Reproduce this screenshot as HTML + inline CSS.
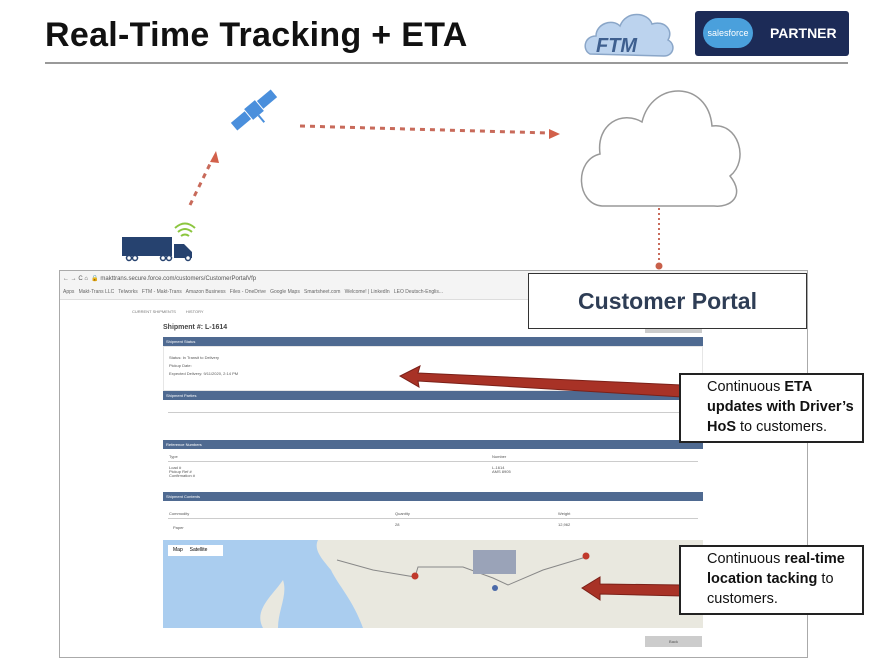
<!DOCTYPE html>
<html><head><meta charset="utf-8"><style>
body{margin:0;width:893px;height:668px;background:#fff;position:relative;overflow:hidden;font-family:"Liberation Sans",sans-serif}
.a{position:absolute}
.hd{position:absolute;left:163px;width:540px;background:#4f6a91;color:#fff;font-size:4px;line-height:9px;padding-left:3px;box-sizing:border-box}
.t{position:absolute;font-size:4px;color:#555}
.call{position:absolute;left:679px;width:185px;border:2px solid #222;background:#fff;box-sizing:border-box;font-size:14.5px;line-height:20px;padding:2px 0 0 26px;color:#111}
</style></head><body>
<div class="a" style="left:45px;top:16px;font-size:34px;font-weight:bold;color:#111;letter-spacing:0.3px">Real-Time Tracking + ETA</div>
<div class="a" style="left:45px;top:62px;width:803px;height:2px;background:#999"></div>
<!-- FTM logo -->
<svg class="a" style="left:582px;top:6px" width="96" height="56">
<path d="M8 48 C0 44 2 30 14 30 C14 18 30 12 38 20 C44 4 66 6 70 18 C82 14 92 24 86 34 C94 38 92 50 82 50 Z" fill="#bcd3ee" stroke="#8aa6c8" stroke-width="1.5"/>
<text x="14" y="46" font-family="Liberation Sans" font-size="20" font-weight="bold" font-style="italic" fill="#3e5f8f">FTM</text>
</svg>
<div class="a" style="left:695px;top:11px;width:154px;height:45px;background:#1c2b57;border-radius:3px"></div>
<div class="a" style="left:703px;top:18px;width:50px;height:30px;background:#4aa0dc;border-radius:15px;color:#fff;font-size:9px;line-height:30px;text-align:center">salesforce</div>
<div class="a" style="left:770px;top:25px;color:#fff;font-weight:bold;font-size:14px">PARTNER</div>
<svg class="a" style="left:0;top:0" width="893" height="668">
<!-- satellite -->
<g transform="translate(254,110) rotate(-40)">
<rect x="-26" y="-5" width="18" height="10" fill="#4a8fdc"/>
<rect x="8" y="-5" width="18" height="10" fill="#4a8fdc"/>
<rect x="-7" y="-7" width="14" height="14" fill="#4a8fdc"/>
<line x1="0" y1="7" x2="0" y2="16" stroke="#4a8fdc" stroke-width="2"/>
</g>
<!-- truck -->
<rect x="122" y="237" width="50" height="19" fill="#26426f"/>
<path d="M174 244 h10 l8 8 v6 h-18z" fill="#26426f"/>
<circle cx="129" cy="258" r="2.5" fill="#fff" stroke="#26426f" stroke-width="1.5"/>
<circle cx="135" cy="258" r="2.5" fill="#fff" stroke="#26426f" stroke-width="1.5"/>
<circle cx="163" cy="258" r="2.5" fill="#fff" stroke="#26426f" stroke-width="1.5"/>
<circle cx="169" cy="258" r="2.5" fill="#fff" stroke="#26426f" stroke-width="1.5"/>
<circle cx="188" cy="258" r="2.5" fill="#fff" stroke="#26426f" stroke-width="1.5"/>
<path d="M175 228 q10 -9 20 0 M178 232 q7 -6 14 0 M181 236 q4 -3 8 0" stroke="#8cc63f" stroke-width="2" fill="none"/>
<!-- dotted lines -->
<line x1="190" y1="205" x2="212" y2="160" stroke="#c86a5a" stroke-width="3" stroke-dasharray="5 5"/>
<polygon points="216,151 210,162 219,163" fill="#d2604a"/>
<line x1="300" y1="126" x2="550" y2="133" stroke="#c86a5a" stroke-width="3" stroke-dasharray="5 5"/>
<polygon points="560,134 549,129 549,139" fill="#d2604a"/>
<!-- cloud -->
<path d="M602 206 C576 204 574 160 600 154 C596 124 622 110 642 122 C652 80 708 80 712 126 C738 122 750 160 730 176 C746 196 730 208 714 206 Z" fill="#fff" stroke="#999" stroke-width="1.5"/>
<line x1="659" y1="208" x2="659" y2="262" stroke="#c86a5a" stroke-width="2" stroke-dasharray="2 3"/>
<circle cx="659" cy="266" r="3.5" fill="#c8604a"/>
</svg>
<!-- browser -->
<div class="a" style="left:59px;top:270px;width:749px;height:388px;border:1px solid #aaa;box-sizing:border-box;background:#fff"></div>
<div class="a" style="left:60px;top:271px;width:747px;height:28px;background:#f4f4f4;border-bottom:1px solid #ddd"></div>
<div class="a" style="left:63px;top:275px;font-size:6px;color:#555">← → C ⌂ &nbsp;🔒 makttrans.secure.force.com/customers/CustomerPortalVfp</div>
<div class="a" style="left:63px;top:289px;font-size:5px;color:#666;white-space:nowrap">Apps &nbsp; Makt-Trans LLC &nbsp; Telworks &nbsp; FTM - Makt-Trans &nbsp; Amazon Business &nbsp; Files - OneDrive &nbsp; Google Maps &nbsp; Smartsheet.com &nbsp; Welcome! | LinkedIn &nbsp; LEO Deutsch-Englis...</div>
<div class="a" style="left:132px;top:309px;font-size:4px;color:#777">CURRENT SHIPMENTS &nbsp;&nbsp;&nbsp;&nbsp;&nbsp;&nbsp;&nbsp; HISTORY</div>
<div class="a" style="left:163px;top:324px;font-size:7px;font-weight:bold;color:#444">Shipment #: L-1614</div>
<div class="a" style="left:645px;top:327px;width:57px;height:6px;background:#ccc"></div>
<div class="hd" style="top:337px">Shipment Status</div>
<div class="a" style="left:163px;top:346px;width:540px;height:45px;border:1px solid #e6e6e6;box-sizing:border-box"></div>
<div class="t" style="left:169px;top:354px;line-height:8px">Status: In Transit to Delivery<br>Pickup Date:<br>Expected Delivery: 9/11/2020, 2:14 PM</div>
<div class="hd" style="top:391px">Shipment Parties</div>
<div class="a" style="left:168px;top:412px;width:530px;height:1px;background:#ccc"></div>
<div class="hd" style="top:440px">Reference Numbers</div>
<div class="t" style="left:169px;top:454px">Type</div><div class="t" style="left:492px;top:454px">Number</div>
<div class="a" style="left:168px;top:461px;width:530px;height:1px;background:#ccc"></div>
<div class="t" style="left:169px;top:466px;line-height:4px">Load #<br>Pickup Ref #<br>Confirmation #</div>
<div class="t" style="left:492px;top:466px;line-height:4px">L-1614<br>AMS 8905</div>
<div class="hd" style="top:492px">Shipment Contents</div>
<div class="t" style="left:169px;top:511px">Commodity</div><div class="t" style="left:395px;top:511px">Quantity</div><div class="t" style="left:558px;top:511px">Weight</div>
<div class="a" style="left:168px;top:518px;width:530px;height:1px;background:#ccc"></div>
<div class="t" style="left:173px;top:525px">Paper</div><div class="t" style="left:395px;top:522px">28</div><div class="t" style="left:558px;top:522px">12,962</div>
<!-- map -->
<div class="a" style="left:163px;top:540px;width:540px;height:88px;background:#e9e8df;overflow:hidden">
<svg width="540" height="88" style="position:absolute;left:0;top:0">
<path d="M0 0 H155 C150 10 160 20 168 30 C175 45 190 60 200 88 H0Z" fill="#aacdef"/>
<path d="M120 40 C110 55 90 70 100 88 L115 88 C115 70 125 55 120 40Z" fill="#e9e8df"/>
<path d="M174 20 L210 30 L252 37 L255 27 L300 27 L330 38 L345 45 L380 30 L423 17" stroke="#888" stroke-width="1" fill="none"/>
<rect x="310" y="10" width="43" height="24" fill="#9aa3b8"/>
<circle cx="332" cy="48" r="3" fill="#4a69a8"/>
<circle cx="252" cy="36" r="3.5" fill="#c0392b"/><circle cx="423" cy="16" r="3.5" fill="#c0392b"/></svg>
<div class="a" style="left:5px;top:5px;width:55px;height:11px;background:#fff;font-size:5px;line-height:11px;padding-left:5px;box-sizing:border-box">Map &nbsp;&nbsp;&nbsp; Satellite</div>
</div>
<div class="a" style="left:645px;top:636px;width:57px;height:11px;background:#ccc;font-size:4px;color:#555;text-align:center;line-height:11px">Back</div>
<!-- customer portal -->
<div class="a" style="left:528px;top:273px;width:279px;height:56px;border:1.5px solid #333;box-sizing:border-box;background:#fff;font-size:23px;font-weight:bold;color:#2e3d55;text-align:center;line-height:54px">Customer Portal</div>
<!-- red arrows -->
<svg class="a" style="left:0;top:0" width="893" height="668">
<polygon points="682,385 418,373 420,366 400,376 419,387 418,381 682,397" fill="#a83226" stroke="#7a2018" stroke-width="1"/>
<polygon points="682,585 600,584 600,577 582,588 600,600 600,594 682,596" fill="#a83226" stroke="#7a2018" stroke-width="1"/>
</svg>
<div class="call" style="top:373px;height:70px">Continuous <b>ETA<br>updates with Driver’s<br>HoS</b> to customers.</div>
<div class="call" style="top:545px;height:70px">Continuous <b>real-time<br>location tacking</b> to<br>customers.</div>
</body></html>
